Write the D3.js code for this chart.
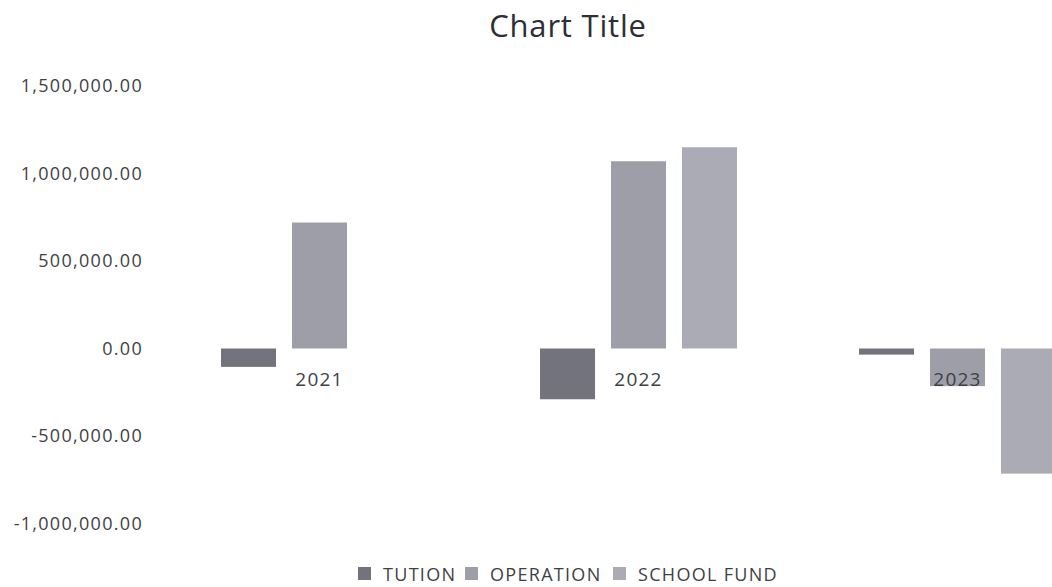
<!DOCTYPE html>
<html>
<head>
<meta charset="utf-8">
<title>Chart Title</title>
<script src="https://d3js.org/d3.v7.min.js"></script>
<style>
    body { margin: 0; background: #fff; }
    svg text { font-family: "Open Sans", sans-serif; fill: #3f3f46; }
</style>
</head>
<body>
<div id="chart"></div>
<script>

var width = 1052,
    height = 587;

// data
var years = ["2021", "2022", "2023"];
var seriesNames = ["TUTION", "OPERATION", "SCHOOL FUND"];
var tution = [-105000, -290000, -35000];
var operation = [720000, 1070000, -215000];
var schoolFund = [0, 1150000, -715000];
var yTicks = [-1000000, -500000, 0, 500000, 1000000, 1500000];
var colors = ["#72737c", "#9d9ea7", "#aaabb4"];

var seriesValues = [tution, operation, schoolFund];

var svg = d3.select("#chart").append("svg")
    .attr("width", width)
    .attr("height", height);

// title
svg.append("text")
    .attr("x", 568)
    .attr("y", 37)
    .attr("text-anchor", "middle")
    .style("font-size", "31px")
    .style("letter-spacing", "0.8px")
    .style("fill", "#2e2e36")
    .text("Chart Title");

// scales - plot runs off the right edge like the original
var x0 = d3.scaleBand()
    .domain(years)
    .range([160, 1117]);

var x1 = d3.scaleBand()
    .domain(seriesNames)
    .range([0, x0.bandwidth()])
    .paddingInner(0.225)
    .paddingOuter(0.86);

var y = d3.scaleLinear()
    .domain([-1000000, 1500000])
    .range([523.5, 86]);

// y axis labels only, no lines
var fmt = d3.format(",.2f");
var yAxis = d3.axisLeft(y)
    .tickValues(yTicks)
    .tickSize(0)
    .tickPadding(0)
    .tickFormat(function (d) { return fmt(d).replace("\u2212", "-"); });

var gy = svg.append("g")
    .attr("transform", "translate(143,0)")
    .call(yAxis);
gy.select(".domain").remove();
gy.selectAll("text")
    .style("font-size", "18px")
    .style("letter-spacing", "1.3px")
    .style("font-family", "'Open Sans', sans-serif")
    .attr("fill", "#3f3f46");

// bars
var groups = svg.selectAll("g.year")
    .data(years).enter()
    .append("g")
    .attr("class", "year")
    .attr("transform", function (d) { return "translate(" + x0(d) + ",0)"; });

groups.selectAll("rect")
    .data(function (d, i) {
        return seriesNames.map(function (s, j) { return { key: s, value: seriesValues[j][i], idx: j }; });
    })
    .enter()
    .append("rect")
    .attr("x", function (d) { return x1(d.key); })
    .attr("y", function (d) { return y(Math.max(0, d.value)); })
    .attr("width", x1.bandwidth())
    .attr("height", function (d) { return Math.abs(y(d.value) - y(0)); })
    .attr("fill", function (d) { return colors[d.idx]; });

// category labels sit just under zero line
svg.selectAll("text.cat")
    .data(years).enter()
    .append("text")
    .attr("class", "cat")
    .attr("x", function (d) { return x0(d) + x0.bandwidth() / 2; })
    .attr("y", 386)
    .attr("text-anchor", "middle")
    .style("font-size", "19px")
    .style("letter-spacing", "1.2px")
    .text(function (d) { return d; });

// legend
var legendX = [358, 465, 613];
var legend = svg.selectAll("g.legend")
    .data(seriesNames).enter()
    .append("g")
    .attr("class", "legend")
    .attr("transform", function (d, i) { return "translate(" + legendX[i] + ",567)"; });

legend.append("rect")
    .attr("width", 13)
    .attr("height", 13)
    .attr("fill", function (d, i) { return colors[i]; });

legend.append("text")
    .attr("x", 25)
    .attr("y", 13.5)
    .style("font-size", "18px")
    .style("letter-spacing", "1.3px")
    .text(function (d) { return d; });

</script>
</body>
</html>
